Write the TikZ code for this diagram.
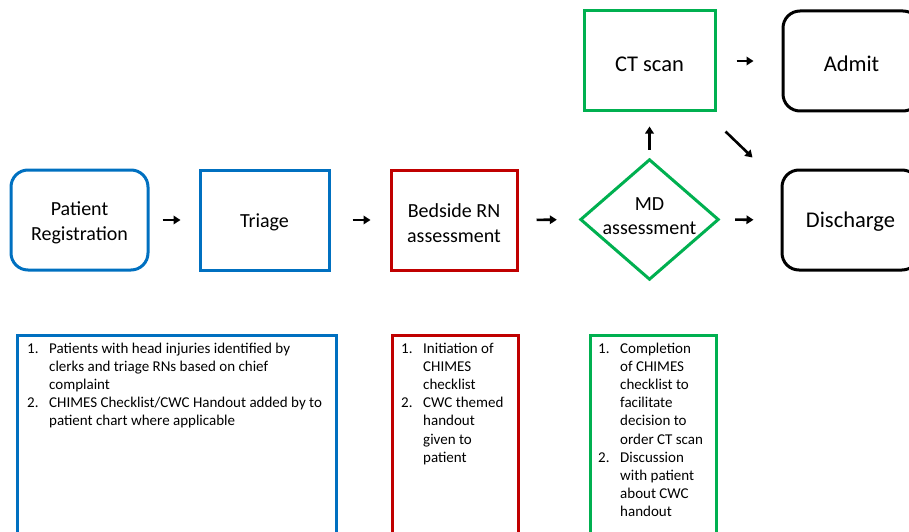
\documentclass[tikz,border=0pt]{standalone}
\usepackage{fontspec}
\setmainfont{Carlito}
\usetikzlibrary{arrows.meta}
\definecolor{cblue}{HTML}{0070C0}
\definecolor{cred}{HTML}{C00000}
\definecolor{cgreen}{HTML}{00B050}
\newcommand{\lnum}[1]{\makebox[22pt][l]{#1}}
\newcommand{\lind}{\hspace*{22pt}}
\begin{document}
\begin{tikzpicture}[x=1pt,y=-1pt,
  box/.style={draw,line width=3pt,inner sep=0pt},
  rbox/.style={box,rounded corners=17pt},
  btext/.style={inner sep=0pt,align=center,font=\fontsize{20}{24.5}\selectfont},
  bigtext/.style={inner sep=0pt,align=center,font=\fontsize{22.5}{27}\selectfont},
  lbox/.style={draw,line width=3pt,inner sep=0pt},
  ltext/.style={anchor=north west,inner sep=0pt,align=left,font=\fontsize{15}{18.2}\selectfont},
  arr/.style={line width=2.6pt,-{Triangle[length=7pt,width=8.5pt]}}]
\clip (0,0) rectangle (909,532);
% top row
\node[rbox,draw=cblue,minimum width=137pt,minimum height=100pt] (reg) at (79.5,220) {};
\node[btext] (regt) at (79.5,223) {Patient\\Registration};
\node[box,draw=cblue,minimum width=129pt,minimum height=100pt] (tri) at (264.5,220) {};
\node[btext] (trit) at (264.5,222) {Triage};
\node[box,draw=cred,minimum width=126pt,minimum height=100pt] (bed) at (454,220) {};
\node[btext] (bedt) at (454,223) {Bedside RN\\assessment};
\node[inner sep=0pt,minimum width=137pt,minimum height=119pt] (md) at (649.5,219.5) {};
\draw[cgreen,line width=3pt,line join=miter] (md.north) -- (md.east) -- (md.south) -- (md.west) -- cycle;
\node[btext] (mdt) at (649.5,216) {MD\\assessment};
\node[box,draw=cgreen,minimum width=131pt,minimum height=100pt] (ct) at (649.5,61) {};
\node[bigtext] (ctt) at (649.5,64) {CT scan};
\node[rbox,draw=black,minimum width=137pt,minimum height=100pt] (adm) at (851.5,61) {};
\node[bigtext] (admt) at (851.5,64) {Admit};
\node[rbox,draw=black,minimum width=137pt,minimum height=100pt] (dis) at (850.5,220) {};
\node[bigtext] (dist) at (850.5,222) {Discharge};
% arrows
\draw[arr,shorten <=13pt,shorten >=18pt] (reg.east) -- (tri.west);
\draw[arr,shorten <=22pt,shorten >=19pt] (tri.east) -- (bed.west);
\draw[arr,shorten <=18pt,shorten >=24pt] (bed.east) -- (md.west);
\draw[arr,shorten <=17pt,shorten >=27pt] (md.east) -- (dis.west);
\draw[arr,shorten <=20pt,shorten >=28pt] (ct.east) -- (ct.east -| adm.west);
\draw[arr,shorten <=10pt,shorten >=14pt] (md.north) -- (ct.south);
\coordinate (dgs) at ([shift={(9,19)}]ct.south east);
\coordinate (dge) at ([shift={(-28,-11)}]dis.north west);
\draw[arr] (dgs) -- (dge);
% bottom boxes
\node[lbox,draw=cblue,anchor=north west,minimum width=319pt,minimum height=220pt] (lb1) at (16,334) {};
\node[lbox,draw=cred,anchor=north west,minimum width=126pt,minimum height=220pt] (lb2) at (391,334) {};
\node[lbox,draw=cgreen,anchor=north west,minimum width=126pt,minimum height=220pt] (lb3) at (589,334) {};
\node[ltext] (lt1) at ([shift={(11,8.5)}]lb1.north west) {%
\lnum{1.}Patients with head injuries identified by\\
\lind clerks and triage RNs based on chief\\
\lind complaint\\
\lnum{2.}CHIMES Checklist/CWC Handout added by to\\
\lind patient chart where applicable};
\node[ltext] (lt2) at ([shift={(10,8.5)}]lb2.north west) {%
\lnum{1.}Initiation of\\
\lind CHIMES\\
\lind checklist\\
\lnum{2.}CWC themed\\
\lind handout\\
\lind given to\\
\lind patient};
\node[ltext] (lt3) at ([shift={(9,8.5)}]lb3.north west) {%
\lnum{1.}Completion\\
\lind of CHIMES\\
\lind checklist to\\
\lind facilitate\\
\lind decision to\\
\lind order CT scan\\
\lnum{2.}Discussion\\
\lind with patient\\
\lind about CWC\\
\lind handout};
\end{tikzpicture}
\end{document}
